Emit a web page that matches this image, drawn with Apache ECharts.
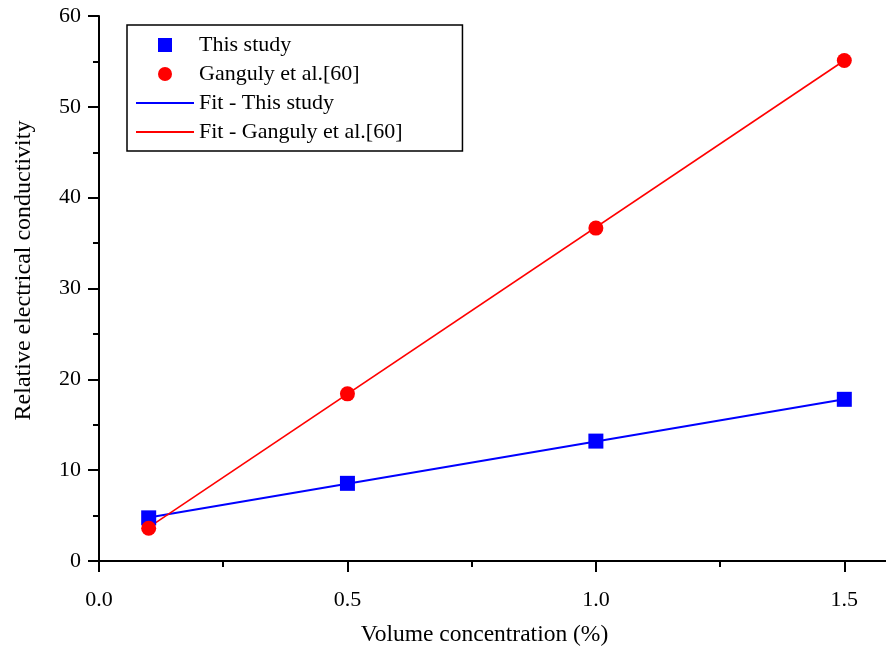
<!DOCTYPE html>
<html>
<head>
<meta charset="utf-8">
<script src="https://cdn.jsdelivr.net/npm/echarts@6/dist/echarts.min.js"></script>
<style>
  html, body { margin: 0; padding: 0; background: #fff; }
  #chart { width: 886px; height: 651px; }
</style>
</head>
<body>
<div id="chart"></div>
<script>
// Measured relative electrical conductivity vs. volume concentration
const concentration = [0.1, 0.5, 1.0, 1.5];
const thisStudy = [4.75, 8.55, 13.2, 17.8];
const ganguly = [3.6, 18.4, 36.65, 55.1];

// Linear fits, evaluated at the ends of the concentration range
const fitX = [0.1, 1.5];
const fitThisStudy = [4.8, 17.8];
const fitGanguly = [3.7, 55.1];

// Axis ticks
const xMajorTicks = [0, 0.5, 1.0, 1.5];
const xMinorTicks = [0.25, 0.75, 1.25];

const seriesNames = ['This study', 'Ganguly et al.[60]', 'Fit - This study', 'Fit - Ganguly et al.[60]'];

const pairs = (xs, ys) => xs.map((x, i) => [x, ys[i]]);

const FONT = 'Liberation Serif';
const axisColor = '#000';

const chart = echarts.init(document.getElementById('chart'), null, { renderer: 'canvas' });

chart.setOption({
  backgroundColor: '#fff',
  animation: false,
  grid: {
    left: 99, top: 16, right: -8, bottom: 90,
    containLabel: false,
    outerBoundsMode: 'none'
  },
  legend: {
    orient: 'vertical',
    left: 127, top: 25,
    padding: [9, 60, 8, 9],
    borderColor: '#000',
    borderWidth: 1.5,
    itemWidth: 58,
    itemHeight: 14,
    itemGap: 7,
    selectedMode: false,
    textStyle: { fontFamily: FONT, fontSize: 22, color: '#000' },
    data: [
      { name: seriesNames[0], icon: 'path://M0 0H10V10H0Z' },
      { name: seriesNames[1], icon: 'circle' },
      // plain line swatches for the fit curves
      { name: seriesNames[2], icon: 'path://M0 0H58V2H0Z' },
      { name: seriesNames[3], icon: 'path://M0 0H58V2H0Z' }
    ]
  },
  xAxis: [
    {
      type: 'value',
      min: 0, max: 1.6,
      position: 'bottom',
      name: 'Volume concentration (%)',
      nameLocation: 'middle',
      nameGap: 62,
      nameTextStyle: { fontFamily: FONT, fontSize: 23.5, color: '#000', padding: [0, 24, 0, 0] },
      axisLine: { show: true, onZero: false, lineStyle: { color: axisColor, width: 2 } },
      axisTick: { show: true, customValues: xMajorTicks, length: 11, lineStyle: { color: axisColor, width: 2 } },
      axisLabel: {
        customValues: xMajorTicks,
        formatter: v => v.toFixed(1),
        margin: 28,
        fontFamily: FONT, fontSize: 22, color: '#000'
      },
      splitLine: { show: false }
    },
    {
      // short intermediate ticks
      type: 'value',
      min: 0, max: 1.6,
      position: 'bottom',
      axisLine: { show: false },
      axisTick: { show: true, customValues: xMinorTicks, length: 6, lineStyle: { color: axisColor, width: 2 } },
      axisLabel: { show: false },
      splitLine: { show: false }
    }
  ],
  yAxis: {
    type: 'value',
    min: 0, max: 60, interval: 10,
    name: 'Relative electrical conductivity',
    nameLocation: 'middle',
    nameGap: 63,
    nameTextStyle: { fontFamily: FONT, fontSize: 24, color: '#000', padding: [0, 0, 0, 36] },
    axisLine: { show: true, onZero: false, lineStyle: { color: axisColor, width: 2 } },
    axisTick: { show: true, length: 11, lineStyle: { color: axisColor, width: 2 } },
    minorTick: { show: true, splitNumber: 2, length: 6, lineStyle: { color: axisColor, width: 2 } },
    axisLabel: { margin: 18, fontFamily: FONT, fontSize: 22, color: '#000' },
    splitLine: { show: false },
    minorSplitLine: { show: false }
  },
  series: [
    {
      name: seriesNames[2],
      type: 'line',
      data: pairs(fitX, fitThisStudy),
      symbol: 'none',
      color: '#0000ff',
      lineStyle: { color: '#0000ff', width: 2 },
      z: 1
    },
    {
      name: seriesNames[3],
      type: 'line',
      data: pairs(fitX, fitGanguly),
      symbol: 'none',
      color: '#ff0000',
      lineStyle: { color: '#ff0000', width: 1.6 },
      z: 1
    },
    {
      name: seriesNames[0],
      type: 'scatter',
      data: pairs(concentration, thisStudy),
      symbol: 'rect',
      symbolSize: 15,
      itemStyle: { color: '#0000ff', opacity: 1 },
      z: 3
    },
    {
      name: seriesNames[1],
      type: 'scatter',
      data: pairs(concentration, ganguly),
      symbol: 'circle',
      symbolSize: 15,
      itemStyle: { color: '#ff0000', opacity: 1 },
      z: 4
    }
  ]
});
</script>
</body>
</html>
